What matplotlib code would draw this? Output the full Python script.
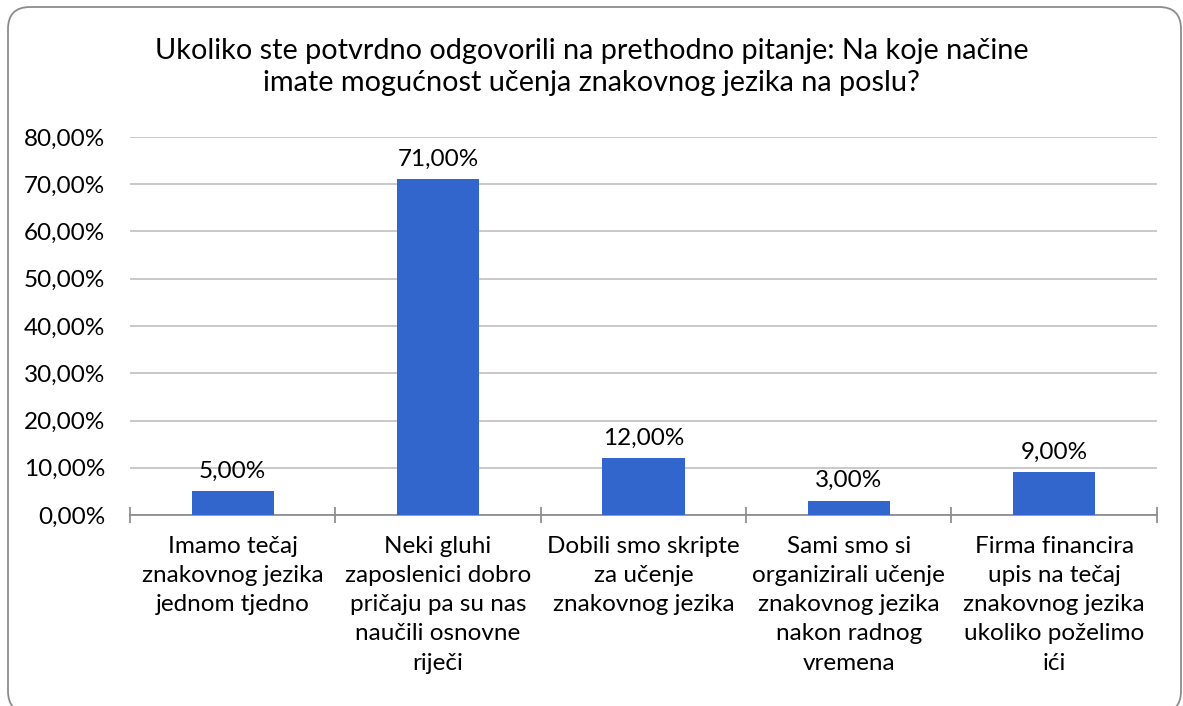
import matplotlib.pyplot as plt
from matplotlib.patches import FancyBboxPatch

categories = [
    "Imamo tečaj\nznakovnog jezika\njednom tjedno",
    "Neki gluhi\nzaposlenici dobro\npričaju pa su nas\nnaučili osnovne\nriječi",
    "Dobili smo skripte\nza učenje\nznakovnog jezika",
    "Sami smo si\norganizirali učenje\nznakovnog jezika\nnakon radnog\nvremena",
    "Firma financira\nupis na tečaj\nznakovnog jezika\nukoliko poželimo\nići",
]
values = [0.05, 0.71, 0.12, 0.03, 0.09]
yticks = [0.0, 0.1, 0.2, 0.3, 0.4, 0.5, 0.6, 0.7, 0.8]

title = ("Ukoliko ste potvrdno odgovorili na prethodno pitanje: Na koje načine\n"
         "imate mogućnost učenja znakovnog jezika na poslu?")

plt.rcParams["font.family"] = ["Lato", "DejaVu Sans"]

fig = plt.figure(figsize=(11.83, 7.06), dpi=100)
fig.patch.set_facecolor("white")
# rounded frame around the chart (in inches), bottom edge runs off the image
border = FancyBboxPatch((0.08, -0.07), 11.73, 7.06,
                        boxstyle="round,pad=0,rounding_size=0.22",
                        transform=fig.dpi_scale_trans, facecolor="none",
                        edgecolor="#8c8c8c", linewidth=1.3, zorder=-1)
fig.patches.append(border)

ax = fig.add_axes([0.1099, 0.2705, 0.868, 0.5355])
ax.set_facecolor("none")
x = list(range(len(values)))
ax.bar(x, values, width=0.4, color="#3366cc", zorder=3)
for xi, v in zip(x, values):
    ax.annotate(f"{v * 100:.2f}%".replace(".", ","), (xi, v),
                xytext=(0, 7), textcoords="offset points",
                ha="center", va="bottom", fontsize=17.5, color="#000000")

ax.set_xlim(-0.5, len(values) - 0.5)
ax.set_ylim(0, 0.8)
ax.set_yticks(yticks)
ax.set_yticklabels([f"{t * 100:.2f}%".replace(".", ",") for t in yticks], fontsize=17.5)
ax.yaxis.grid(True, color="#c0c0c0", linewidth=1.2, zorder=0)
ax.set_axisbelow(True)

ax.set_xticks([i - 0.5 for i in range(len(values) + 1)])
ax.set_xticklabels([])
ax.set_xticks(x, minor=True)
ax.set_xticklabels(categories, minor=True, fontsize=17.5, linespacing=1.48, va="top")
ax.tick_params(axis="x", which="major", direction="inout", length=11,
               color="#868686", width=1.2)
ax.tick_params(axis="x", which="minor", length=0, pad=15)
ax.tick_params(axis="y", length=0, pad=18)

for side in ["top", "right", "left"]:
    ax.spines[side].set_visible(False)
ax.spines["bottom"].set_color("#868686")
ax.spines["bottom"].set_linewidth(1.2)

fig.text(0.5, 0.905, title, ha="center", va="center", fontsize=20.8,
         linespacing=1.3)

fig.savefig("out.png", dpi=100)
